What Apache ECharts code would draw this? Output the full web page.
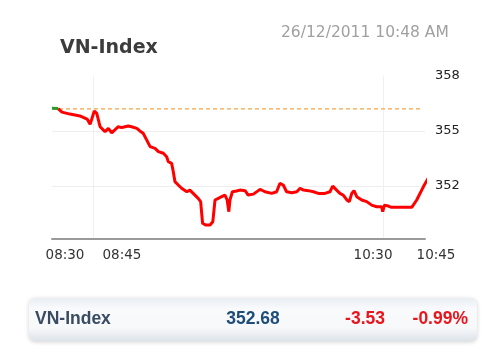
<!DOCTYPE html>
<html>
<head>
<meta charset="utf-8">
<script src="https://cdn.jsdelivr.net/npm/echarts@6/dist/echarts.min.js"></script>
<style>html,body{margin:0;padding:0;background:#fff}#c{width:500px;height:357px}</style>
</head>
<body>
<div id="c"></div>
<script>
// minutes after 08:30
const times = [0, 2.2, 3.6, 6.5, 10.1, 12.7, 13.8, 15.3, 16.2, 17.4, 19.2, 20.4, 21.6, 24.0, 25.2, 26.4, 27.6, 28.8, 30.7, 31.8, 33.0, 34.3, 35.5, 37.3, 38.5, 40.3, 41.5, 42.1, 43.3, 43.9, 44.5, 45.7, 46.9, 48.8, 49.9, 51.1, 52.9, 53.8, 54.5, 55.7, 57.2, 58.2, 59.0, 60.2, 61.4, 62.6, 63.4, 64.0, 64.4, 65.3, 66.8, 68.0, 69.9, 71.0, 72.9, 75.3, 77.1, 79.5, 81.3, 82.5, 83.7, 84.9, 86.8, 88.6, 89.8, 91.0, 92.8, 94.6, 96.4, 98.8, 100.6, 101.6, 103.0, 104.2, 105.4, 106.7, 107.6, 108.5, 109.3, 110.3, 112.1, 113.9, 115.7, 117.5, 119.3, 119.7, 120.3, 120.9, 121.7, 122.9, 130.2, 132.0, 134.4, 136.8];
const values = [356.24, 356.22, 356.03, 355.92, 355.82, 355.65, 355.36, 356.09, 355.96, 355.23, 354.96, 355.14, 354.90, 355.23, 355.18, 355.23, 355.27, 355.23, 355.14, 355.00, 354.87, 354.50, 354.14, 354.05, 353.87, 353.78, 353.59, 353.32, 353.23, 352.77, 352.23, 352.05, 351.87, 351.68, 351.77, 351.59, 351.32, 351.14, 349.96, 349.86, 349.86, 350.04, 351.23, 351.32, 351.41, 351.50, 351.23, 350.59, 351.23, 351.68, 351.72, 351.77, 351.74, 351.50, 351.55, 351.81, 351.68, 351.59, 351.68, 352.14, 352.05, 351.68, 351.63, 351.68, 351.87, 351.77, 351.74, 351.68, 351.59, 351.59, 351.68, 351.99, 351.77, 351.59, 351.50, 351.23, 351.14, 351.59, 351.74, 351.41, 351.23, 351.14, 350.95, 350.86, 350.86, 350.59, 350.95, 351.05, 350.90, 350.83, 350.83, 351.23, 351.95, 352.60];
const prevClose = 356.21;
const refSpan = [0, 134];
const xTickValues = [0, 15, 120, 135];
const xTickLabels = ['08:30', '08:45', '10:30', '10:45'];
const yTickValues = [352, 355, 358];
const titleText = 'VN-Index';
const stampText = '26/12/2011 10:48 AM';
const summaryName = 'VN-Index';
const summaryValue = '352.68';
const summaryChange = '-3.53';
const summaryPct = '-0.99%';

const labelShift = {0: 'a', 15: 'b', 120: 'c', 135: 'd'};

// split the series where it is above the previous close (green) and below (red)
const points = times.map((t, i) => [t, values[i]]);
const firstBelow = values.findIndex(v => v <= prevClose);
const greenData = points.slice(0, firstBelow);
const redData = points.slice(firstBelow - 1);

const chart = echarts.init(document.getElementById('c'), null, {renderer: 'canvas'});
chart.setOption({
  animation: false,
  backgroundColor: '#fff',
  title: [
    {text: titleText, left: 55, top: 34, textStyle: {fontFamily: 'DejaVu Sans', fontWeight: 'bold', fontSize: 19, color: '#3c3c3c'}},
    {text: stampText, left: 276, top: 20, textStyle: {fontFamily: 'DejaVu Sans', fontWeight: 'normal', fontSize: 15.5, color: '#a0a0a0'}}
  ],
  grid: {left: 52, right: 75, top: 76, bottom: 118},
  xAxis: {
    type: 'value', min: 0, max: 135,
    axisLine: {show: true, lineStyle: {color: '#9a9a9a', width: 2}},
    axisTick: {show: false, customValues: [15, 120]},
    splitLine: {show: true, lineStyle: {color: '#f0f0f0', width: 1}},
    axisLabel: {
      customValues: xTickValues,
      margin: 9,
      formatter: function (v) {
        const i = xTickValues.indexOf(v);
        return '{' + labelShift[v] + '|' + xTickLabels[i] + '}';
      },
      rich: {
        a: {padding: [0, 0, 0, 26], fontFamily: 'DejaVu Sans', fontSize: 13.5, color: '#333'},
        b: {padding: [0, 0, 0, 57], fontFamily: 'DejaVu Sans', fontSize: 13.5, color: '#333'},
        c: {padding: [0, 21, 0, 0], fontFamily: 'DejaVu Sans', fontSize: 13.5, color: '#333'},
        d: {padding: [0, 0, 0, 22], fontFamily: 'DejaVu Sans', fontSize: 13.5, color: '#333'}
      }
    }
  },
  yAxis: {
    type: 'value', position: 'right', min: 349.1, max: 358,
    axisLine: {show: false},
    axisTick: {show: false, customValues: [352, 355]},
    splitLine: {show: true, lineStyle: {color: '#eeeeee', width: 1}},
    axisLabel: {customValues: yTickValues, margin: 10, fontFamily: 'DejaVu Sans', fontSize: 13, color: '#222'}
  },
  series: [{
    type: 'line',
    name: 'ref',
    data: refSpan.map(t => [t, prevClose]),
    showSymbol: false,
    symbol: 'none',
    silent: true,
    z: 2,
    lineStyle: {type: [4, 3], color: '#f5a445', width: 1.2}
  }, {
    type: 'line',
    data: redData,
    showSymbol: false,
    symbol: 'none',
    clip: false,
    z: 3,
    lineStyle: {width: 3, color: '#ff0000'}
  }, {
    type: 'line',
    data: greenData,
    showSymbol: false,
    symbol: 'none',
    clip: false,
    z: 4,
    lineStyle: {width: 3, color: '#2a9a2a'}
  }],
  graphic: [{
    type: 'group', left: 29, top: 298,
    children: [
      {type: 'rect', shape: {x: 0, y: 0, width: 448, height: 43, r: 6},
        style: {fill: new echarts.graphic.LinearGradient(0, 0, 0, 1, [
          {offset: 0, color: '#e9eef3'}, {offset: 0.25, color: '#f9fafc'},
          {offset: 0.7, color: '#f6f8fa'}, {offset: 1, color: '#dde3ea'}]),
          shadowBlur: 4, shadowColor: 'rgba(0,0,0,0.18)', shadowOffsetY: 1}},
      {type: 'text', x: 6, y: 21.5, style: {text: summaryName, fontFamily: 'Liberation Sans', fontWeight: 'bold', fontSize: 17.5, fill: '#3a4c62', verticalAlign: 'middle'}},
      {type: 'text', x: 224, y: 21.5, style: {text: summaryValue, fontFamily: 'Liberation Sans', fontWeight: 'bold', fontSize: 17.5, fill: '#1e4d78', align: 'center', verticalAlign: 'middle'}},
      {type: 'text', x: 356, y: 21.5, style: {text: summaryChange, fontFamily: 'Liberation Sans', fontWeight: 'bold', fontSize: 17.5, fill: '#e8151c', align: 'right', verticalAlign: 'middle'}},
      {type: 'text', x: 439, y: 21.5, style: {text: summaryPct, fontFamily: 'Liberation Sans', fontWeight: 'bold', fontSize: 17.5, fill: '#e8151c', align: 'right', verticalAlign: 'middle'}}
    ]
  }]
});
</script>
</body>
</html>
